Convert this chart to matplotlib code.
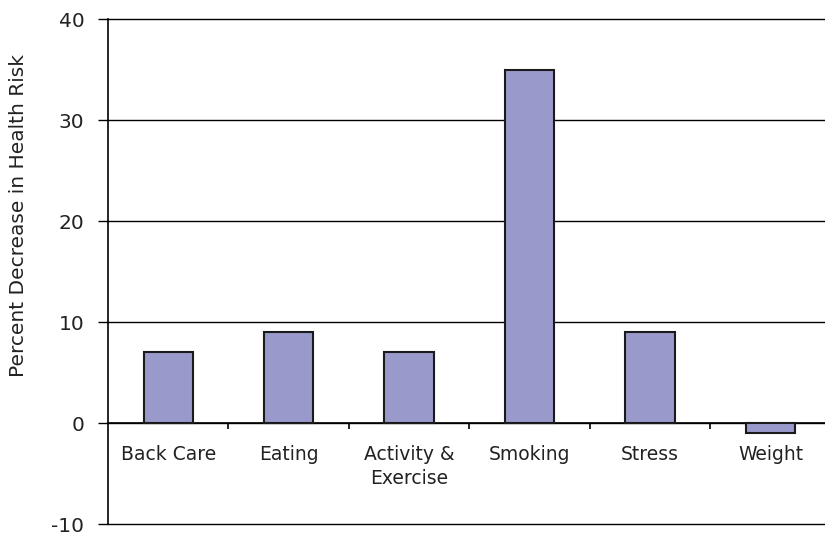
import numpy as np
import matplotlib.pyplot as plt

categories = ["Back Care", "Eating", "Activity &\nExercise", "Smoking", "Stress", "Weight"]
values = [7, 9, 7, 35, 9, -1]
yticks = [-10, 0, 10, 20, 30, 40]

fig = plt.figure(figsize=(8.25, 5.4), dpi=100)
ax = fig.add_axes([0.1309, 0.0296, 0.876, 0.9352])

x = np.arange(len(categories))
ax.bar(x, values, width=0.41, color="#9999cc", edgecolor="#1a1a1a", linewidth=1.5, zorder=3)

ax.set_xlim(-0.5, 5.5)
ax.set_ylim(-10, 40)
ax.set_yticks(yticks)
ax.set_yticklabels([str(v) for v in yticks], fontsize=14.5, family="DejaVu Sans", color="#222222")
ax.tick_params(axis="y", direction="out", length=7, width=1, pad=10)
ax.grid(axis="y", color="black", linewidth=1)
for gl in ax.get_ygridlines():
    gl.set_clip_on(False)

for s in ["top", "right"]:
    ax.spines[s].set_visible(False)
ax.spines["left"].set_linewidth(1.2)
ax.spines["bottom"].set_position(("data", 0))
ax.spines["bottom"].set_linewidth(1.2)

# separators between categories on the zero line, labels at the centres
ax.set_xticks(np.arange(len(categories)) + 0.5)
ax.set_xticklabels([])
ax.tick_params(axis="x", direction="out", length=4, width=1.2)
ax.set_xticks(x, minor=True)
ax.set_xticklabels(categories, minor=True, fontsize=13.5, family="DejaVu Sans",
                   color="#222222", linespacing=1.3)
ax.tick_params(axis="x", which="minor", length=0, pad=16)

ax.set_ylabel("Percent Decrease in Health Risk", fontsize=14.5, family="DejaVu Sans", color="#222222")
ax.yaxis.set_label_coords(-0.11, 0.61)

fig.savefig("out.png", dpi=100)
